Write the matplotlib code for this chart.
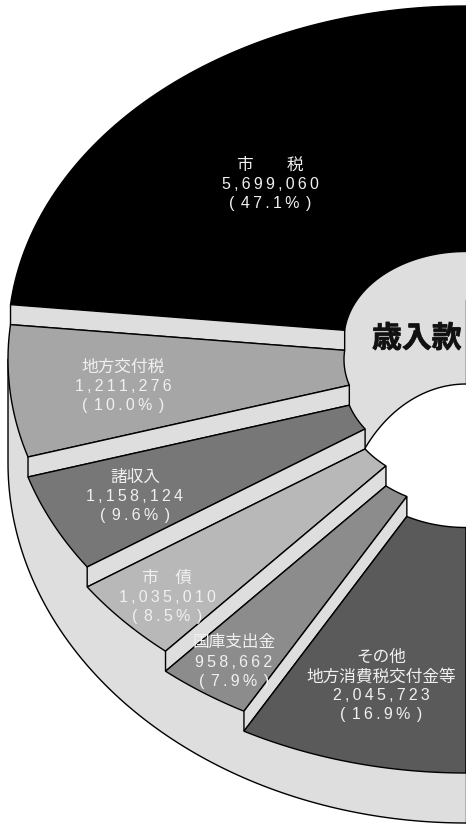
import numpy as np
import matplotlib
matplotlib.use('Agg')
import matplotlib.pyplot as plt
from matplotlib.patches import Polygon
import matplotlib.patheffects as pe

plt.rcParams['font.family'] = ['Liberation Sans', 'Noto Sans CJK JP', 'DejaVu Sans']

# slices, clockwise from the top of the ring
names = ['市\u3000\u3000税', '地方交付税', '諸収入', '市\u3000債', '国庫支出金', 'その他\n地方消費税交付金等']
amounts = [5699060, 1211276, 1158124, 1035010, 958662, 2045723]
percents = [47.1, 10.0, 9.6, 8.5, 7.9, 16.9]
# the drawn sectors are not proportional to the amounts, so the visible sweep
# of each one (degrees) is read off the picture
sweeps = [84.0, 23.0, 17.2, 14.8, 12.0, 29.0]
face_colors = ['#000000', '#a6a6a6', '#777777', '#b8b8b8', '#8c8c8c', '#5a5a5a']
label_x = [270, 123, 135, 167, 234, 381]
label_y = [165, 367, 477, 578, 643, 657]

WALL = '#dedede'
CX, CY = 466, 339.5
RX, RY = 458, 333.5     # outer ring
IRX, IRY = 122, 88      # inner ring
STEP = 20               # each slice sits one step lower than the one before
LW = 1.0
SP = '\u2009'           # letter spacing


def ring_pt(t, rx, ry, off=0):
    # t in degrees from the bottom of the ellipse, going clockwise
    t = np.radians(t)
    return CX - rx * np.sin(t), CY + off + ry * np.cos(t)


def arc(t0, t1, rx, ry, off=0):
    t = np.linspace(t0, t1, 80)
    x, y = ring_pt(t, rx, ry, off)
    return np.column_stack([x, y])


fig = plt.figure(figsize=(4.66, 8.26), dpi=100)
ax = fig.add_axes([0, 0, 1, 1])
ax.set_xlim(0, 466)
ax.set_ylim(826, 0)
ax.axis('off')

# outer wall under the whole stair
wall_arc = np.column_stack([CX - RX * np.sin(np.radians(np.linspace(90, 0, 100))),
                            463 + 360 * np.cos(np.radians(np.linspace(90, 0, 100)))])
left_top = ring_pt(90, RX, RY, STEP)
outline = np.vstack([[left_top], wall_arc])
ax.add_patch(Polygon(np.vstack([outline, [[466, 340]]]), closed=True, fc=WALL, ec='none', zorder=1))
ax.plot(outline[:, 0], outline[:, 1], color='k', lw=LW, zorder=2)

# hub and the white hole
th = np.radians(np.linspace(0, 90, 60))
hub_top = np.column_stack([CX - IRX * np.sin(th), CY - IRY * np.cos(th)])
hub = np.vstack([hub_top, [[CX - IRX, 550], [466, 550]]])
ax.add_patch(Polygon(hub, closed=True, fc=WALL, ec='none', zorder=2))
hh = np.radians(np.linspace(0, 360, 200))
hole = np.column_stack([466 + 126 * np.cos(hh), 544 + 160 * np.sin(hh)])
ax.add_patch(Polygon(hole, closed=True, fc='white', ec='k', lw=LW, zorder=3))

# right hand cut of the hub and the bottom wall
ax.plot([465.5, 465.5], [300, 384], color='k', lw=LW, zorder=4)

# slices, from black downwards
ends = 180 - np.cumsum(sweeps)
starts = np.r_[180, ends[:-1]]
for i in range(len(amounts)):
    off = i * STEP
    t0, t1 = starts[i], ends[i]
    face = np.vstack([arc(t0, t1, RX, RY, off), arc(t1, t0, IRX, IRY, off)])
    ax.add_patch(Polygon(face, closed=True, fc=face_colors[i], ec='k', lw=LW,
                         joinstyle='miter', zorder=5 + i))
    if i < len(amounts) - 1:
        po = ring_pt(t1, RX, RY, off)
        pi_ = ring_pt(t1, IRX, IRY, off)
        quad = [po, pi_, (pi_[0], pi_[1] + STEP), (po[0], po[1] + STEP)]
        ax.add_patch(Polygon(quad, closed=True, fc=WALL, ec='k', lw=LW,
                             joinstyle='miter', zorder=5 + i))

ax.plot([465.5, 465.5], [528, 823], color='k', lw=LW, zorder=20)

# labels
for i in range(len(amounts)):
    lines = names[i].split('\n')
    n_name = len(lines)
    lines.append(SP.join(f'{amounts[i]:,}'))
    lines.append('(' + SP * 2 + SP.join(f'{percents[i]:.1f}%') + SP * 2 + ')')
    for j, s in enumerate(lines):
        ax.text(label_x[i], label_y[i] + j * 19.2, s, color='#f0f0f0',
                fontsize=12 if j < n_name else 11.5,
                ha='center', va='center', zorder=30)

ax.text(372, 339, '歳入款', fontsize=21.5, fontweight='bold', color='#111111',
        ha='left', va='center', zorder=30,
        path_effects=[pe.withStroke(linewidth=0.6, foreground='#222222')])

fig.savefig('out.png', dpi=100)
